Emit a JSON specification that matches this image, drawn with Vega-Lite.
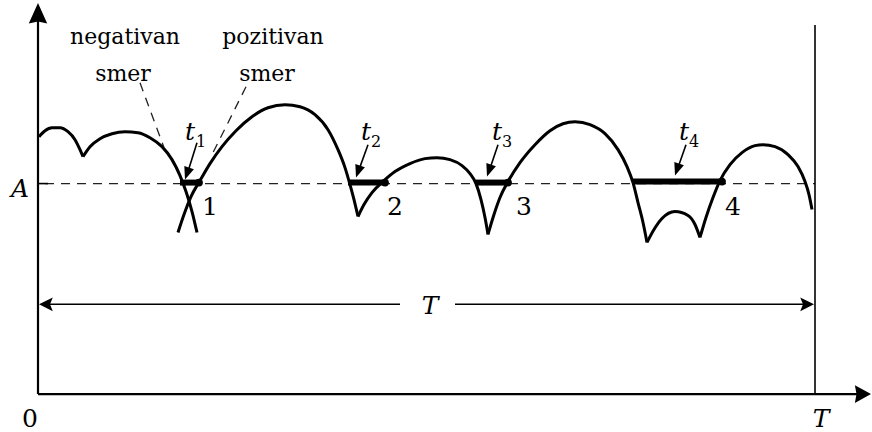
{
  "$schema": "https://vega.github.io/schema/vega-lite/v6.json",
  "width": 872,
  "height": 432,
  "autosize": {"type": "fit", "contains": "padding"},
  "padding": 0,
  "background": "white",
  "config": {"view": {"stroke": null}},
  "datasets": {
    "curve": [
      {"seg": 1, "i": 0, "x": 39, "y": 137}, {"seg": 1, "i": 1, "x": 45, "y": 131}, {"seg": 1, "i": 2, "x": 52, "y": 128}, {"seg": 1, "i": 3, "x": 60, "y": 128}, {"seg": 1, "i": 4, "x": 68, "y": 132}, {"seg": 1, "i": 5, "x": 75, "y": 140}, {"seg": 1, "i": 6, "x": 80, "y": 150}, {"seg": 1, "i": 7, "x": 83, "y": 157},
      {"seg": 2, "i": 0, "x": 83, "y": 157}, {"seg": 2, "i": 1, "x": 90, "y": 147}, {"seg": 2, "i": 2, "x": 100, "y": 139}, {"seg": 2, "i": 3, "x": 112, "y": 134}, {"seg": 2, "i": 4, "x": 125, "y": 132}, {"seg": 2, "i": 5, "x": 138, "y": 133}, {"seg": 2, "i": 6, "x": 150, "y": 138}, {"seg": 2, "i": 7, "x": 162, "y": 147}, {"seg": 2, "i": 8, "x": 172, "y": 160}, {"seg": 2, "i": 9, "x": 180, "y": 176}, {"seg": 2, "i": 10, "x": 186, "y": 192}, {"seg": 2, "i": 11, "x": 192, "y": 212}, {"seg": 2, "i": 12, "x": 197, "y": 233},
      {"seg": 3, "i": 0, "x": 178, "y": 233}, {"seg": 3, "i": 1, "x": 184, "y": 215}, {"seg": 3, "i": 2, "x": 191, "y": 197}, {"seg": 3, "i": 3, "x": 200, "y": 181}, {"seg": 3, "i": 4, "x": 210, "y": 164}, {"seg": 3, "i": 5, "x": 222, "y": 147}, {"seg": 3, "i": 6, "x": 236, "y": 131}, {"seg": 3, "i": 7, "x": 252, "y": 117}, {"seg": 3, "i": 8, "x": 268, "y": 108}, {"seg": 3, "i": 9, "x": 285, "y": 105}, {"seg": 3, "i": 10, "x": 300, "y": 107}, {"seg": 3, "i": 11, "x": 315, "y": 115}, {"seg": 3, "i": 12, "x": 328, "y": 130}, {"seg": 3, "i": 13, "x": 338, "y": 150}, {"seg": 3, "i": 14, "x": 345, "y": 168}, {"seg": 3, "i": 15, "x": 350, "y": 185}, {"seg": 3, "i": 16, "x": 354, "y": 200}, {"seg": 3, "i": 17, "x": 358, "y": 217},
      {"seg": 4, "i": 0, "x": 358, "y": 217}, {"seg": 4, "i": 1, "x": 364, "y": 205}, {"seg": 4, "i": 2, "x": 372, "y": 193}, {"seg": 4, "i": 3, "x": 383, "y": 182}, {"seg": 4, "i": 4, "x": 395, "y": 172}, {"seg": 4, "i": 5, "x": 410, "y": 164}, {"seg": 4, "i": 6, "x": 425, "y": 159}, {"seg": 4, "i": 7, "x": 437, "y": 158}, {"seg": 4, "i": 8, "x": 450, "y": 160}, {"seg": 4, "i": 9, "x": 462, "y": 166}, {"seg": 4, "i": 10, "x": 470, "y": 174}, {"seg": 4, "i": 11, "x": 476, "y": 184}, {"seg": 4, "i": 12, "x": 481, "y": 200}, {"seg": 4, "i": 13, "x": 485, "y": 218}, {"seg": 4, "i": 14, "x": 488, "y": 235},
      {"seg": 5, "i": 0, "x": 488, "y": 235}, {"seg": 5, "i": 1, "x": 494, "y": 215}, {"seg": 5, "i": 2, "x": 500, "y": 198}, {"seg": 5, "i": 3, "x": 508, "y": 182}, {"seg": 5, "i": 4, "x": 520, "y": 163}, {"seg": 5, "i": 5, "x": 535, "y": 145}, {"seg": 5, "i": 6, "x": 550, "y": 131}, {"seg": 5, "i": 7, "x": 563, "y": 124}, {"seg": 5, "i": 8, "x": 575, "y": 122}, {"seg": 5, "i": 9, "x": 590, "y": 125}, {"seg": 5, "i": 10, "x": 605, "y": 134}, {"seg": 5, "i": 11, "x": 618, "y": 150}, {"seg": 5, "i": 12, "x": 627, "y": 167}, {"seg": 5, "i": 13, "x": 633, "y": 183}, {"seg": 5, "i": 14, "x": 638, "y": 203}, {"seg": 5, "i": 15, "x": 643, "y": 223}, {"seg": 5, "i": 16, "x": 647, "y": 243},
      {"seg": 6, "i": 0, "x": 647, "y": 243}, {"seg": 6, "i": 1, "x": 654, "y": 230}, {"seg": 6, "i": 2, "x": 662, "y": 219}, {"seg": 6, "i": 3, "x": 675, "y": 212}, {"seg": 6, "i": 4, "x": 688, "y": 216}, {"seg": 6, "i": 5, "x": 695, "y": 225}, {"seg": 6, "i": 6, "x": 700, "y": 238},
      {"seg": 7, "i": 0, "x": 700, "y": 238}, {"seg": 7, "i": 1, "x": 706, "y": 218}, {"seg": 7, "i": 2, "x": 713, "y": 198}, {"seg": 7, "i": 3, "x": 720, "y": 181}, {"seg": 7, "i": 4, "x": 730, "y": 165}, {"seg": 7, "i": 5, "x": 742, "y": 153}, {"seg": 7, "i": 6, "x": 755, "y": 146}, {"seg": 7, "i": 7, "x": 763, "y": 145}, {"seg": 7, "i": 8, "x": 775, "y": 147}, {"seg": 7, "i": 9, "x": 788, "y": 155}, {"seg": 7, "i": 10, "x": 798, "y": 167}, {"seg": 7, "i": 11, "x": 805, "y": 182}, {"seg": 7, "i": 12, "x": 809, "y": 195}, {"seg": 7, "i": 13, "x": 812, "y": 210}
    ]
  },
  "encoding": {
    "x": {"field": "x", "type": "quantitative", "scale": {"domain": [0, 872], "nice": false, "zero": false}, "axis": null},
    "y": {"field": "y", "type": "quantitative", "scale": {"domain": [0, 432], "nice": false, "zero": false, "reverse": true}, "axis": null}
  },
  "layer": [
    {
      "data": {"values": [
        {"x": 45, "y": 184, "x2": 815, "y2": 184},
        {"x": 140, "y": 83, "x2": 164, "y2": 148},
        {"x": 246, "y": 87, "x2": 213, "y2": 153}
      ]},
      "mark": {"type": "rule", "color": "#222", "strokeWidth": 1.3, "strokeDash": [9, 7]},
      "encoding": {"x2": {"field": "x2"}, "y2": {"field": "y2"}}
    },
    {
      "data": {"values": [
        {"x": 38, "y": 395, "x2": 38, "y2": 20},
        {"x": 38, "y": 395, "x2": 860, "y2": 395}
      ]},
      "mark": {"type": "rule", "color": "black", "strokeWidth": 2.2},
      "encoding": {"x2": {"field": "x2"}, "y2": {"field": "y2"}}
    },
    {
      "data": {"values": [
        {"x": 815, "y": 25, "x2": 815, "y2": 395},
        {"x": 38, "y": 184, "x2": 48, "y2": 184},
        {"x": 46, "y": 305, "x2": 400, "y2": 305},
        {"x": 455, "y": 305, "x2": 806, "y2": 305},
        {"x": 197, "y": 143, "x2": 188, "y2": 172},
        {"x": 368, "y": 145, "x2": 359, "y2": 170},
        {"x": 498, "y": 145, "x2": 490, "y2": 169},
        {"x": 686, "y": 145, "x2": 678, "y2": 168}
      ]},
      "mark": {"type": "rule", "color": "black", "strokeWidth": 1.6},
      "encoding": {"x2": {"field": "x2"}, "y2": {"field": "y2"}}
    },
    {
      "data": {"name": "curve"},
      "mark": {"type": "line", "color": "black", "strokeWidth": 3, "interpolate": "monotone"},
      "encoding": {"detail": {"field": "seg"}, "order": {"field": "i", "type": "quantitative"}}
    },
    {
      "data": {"values": [
        {"x": 180, "y": 183, "x2": 201, "y2": 183},
        {"x": 348, "y": 183, "x2": 385, "y2": 183},
        {"x": 476, "y": 183, "x2": 508, "y2": 183},
        {"x": 632, "y": 182, "x2": 722, "y2": 182}
      ]},
      "mark": {"type": "rule", "color": "black", "strokeWidth": 6},
      "encoding": {"x2": {"field": "x2"}, "y2": {"field": "y2"}}
    },
    {
      "data": {"values": [
        {"x": 199, "y": 183}, {"x": 385, "y": 183}, {"x": 508, "y": 183}, {"x": 722, "y": 182}
      ]},
      "mark": {"type": "point", "shape": "circle", "filled": true, "color": "black", "opacity": 1, "size": 60}
    },
    {
      "data": {"values": [{"x": 38, "y": 3}]},
      "mark": {"type": "point", "shape": "M0,0L0.9,2L0,1.8L-0.9,2Z", "filled": true, "color": "black", "opacity": 1, "size": 420, "angle": 0}
    },
    {
      "data": {"values": [{"x": 871, "y": 395}]},
      "mark": {"type": "point", "shape": "M0,0L1.1,2L0,1.8L-1.1,2Z", "filled": true, "color": "black", "opacity": 1, "size": 260, "angle": 90}
    },
    {
      "data": {"values": [{"x": 814, "y": 305}]},
      "mark": {"type": "point", "shape": "M0,0L1,2L0,1.6L-1,2Z", "filled": true, "color": "black", "opacity": 1, "size": 190, "angle": 90}
    },
    {
      "data": {"values": [{"x": 39, "y": 305}]},
      "mark": {"type": "point", "shape": "M0,0L1,2L0,1.6L-1,2Z", "filled": true, "color": "black", "opacity": 1, "size": 190, "angle": 270}
    },
    {
      "data": {"values": [{"x": 185, "y": 180}, {"x": 356, "y": 178}, {"x": 487, "y": 177}, {"x": 675, "y": 176}]},
      "mark": {"type": "point", "shape": "M0,0L0.8,2L-0.8,2Z", "filled": true, "color": "black", "opacity": 1, "size": 160, "angle": 199}
    },
    {
      "data": {"values": [
        {"label": "negativan", "x": 125, "y": 44},
        {"label": "smer", "x": 123, "y": 81},
        {"label": "pozitivan", "x": 273, "y": 44},
        {"label": "smer", "x": 267, "y": 81}
      ]},
      "mark": {"type": "text", "font": "DejaVu Serif", "fontSize": 22, "align": "center", "baseline": "alphabetic", "color": "black"},
      "encoding": {"text": {"field": "label"}}
    },
    {
      "data": {"values": [
        {"label": "1", "x": 210, "y": 215},
        {"label": "2", "x": 395, "y": 215},
        {"label": "3", "x": 524, "y": 215},
        {"label": "4", "x": 733, "y": 215},
        {"label": "0", "x": 30, "y": 428}
      ]},
      "mark": {"type": "text", "font": "DejaVu Serif", "fontSize": 25, "align": "center", "baseline": "alphabetic", "color": "black"},
      "encoding": {"text": {"field": "label"}}
    },
    {
      "data": {"values": [
        {"label": "A", "x": 20, "y": 197},
        {"label": "T", "x": 430, "y": 315},
        {"label": "T", "x": 821, "y": 428},
        {"label": "t", "x": 190, "y": 140},
        {"label": "t", "x": 366, "y": 140},
        {"label": "t", "x": 497, "y": 140},
        {"label": "t", "x": 684, "y": 140}
      ]},
      "mark": {"type": "text", "font": "DejaVu Serif", "fontStyle": "italic", "fontSize": 25, "align": "center", "baseline": "alphabetic", "color": "black"},
      "encoding": {"text": {"field": "label"}}
    },
    {
      "data": {"values": [
        {"label": "1", "x": 201, "y": 147},
        {"label": "2", "x": 376, "y": 147},
        {"label": "3", "x": 507, "y": 147},
        {"label": "4", "x": 694, "y": 147}
      ]},
      "mark": {"type": "text", "font": "DejaVu Serif", "fontSize": 16, "align": "center", "baseline": "alphabetic", "color": "black"},
      "encoding": {"text": {"field": "label"}}
    }
  ]
}
